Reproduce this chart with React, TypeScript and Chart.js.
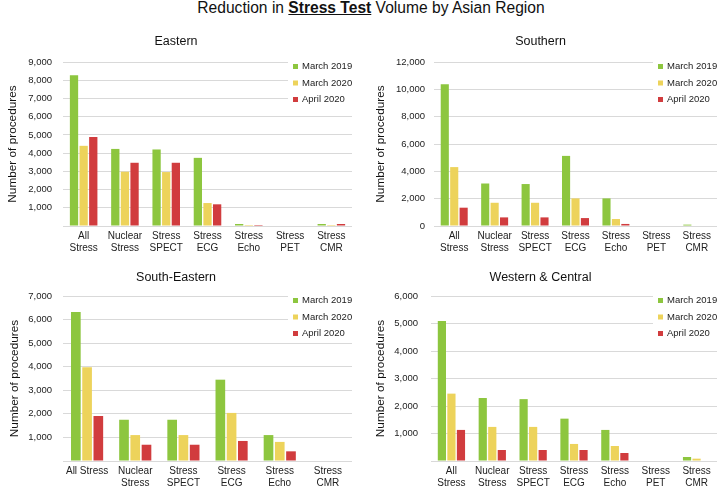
import React, { useEffect, useRef } from 'react';
import { Chart, registerables } from 'chart.js';

Chart.register(...registerables);

const FONT = "'Liberation Sans', Arial, sans-serif";

const SERIES_LABELS = ['March 2019', 'March 2020', 'April 2020'];
const SERIES_COLORS = ['#8DC63F', '#EDD35B', '#D13C3E'];

const CATEGORIES_7: (string | string[])[] = [
  ['All', 'Stress'], ['Nuclear', 'Stress'], ['Stress', 'SPECT'], ['Stress', 'ECG'],
  ['Stress', 'Echo'], ['Stress', 'PET'], ['Stress', 'CMR'],
];
const CATEGORIES_SE: (string | string[])[] = [
  'All Stress', ['Nuclear', 'Stress'], ['Stress', 'SPECT'], ['Stress', 'ECG'],
  ['Stress', 'Echo'], ['Stress', 'CMR'],
];

// Eastern
const EASTERN_MAR2019 = [8270, 4230, 4200, 3740, 110, 0, 110];
const EASTERN_MAR2020 = [4400, 2980, 2960, 1260, 55, 0, 55];
const EASTERN_APR2020 = [4890, 3470, 3470, 1190, 55, 0, 110];

// Southern
const SOUTHERN_MAR2019 = [10370, 3110, 3070, 5130, 2020, 0, 100];
const SOUTHERN_MAR2020 = [4310, 1700, 1700, 2020, 510, 0, 0];
const SOUTHERN_APR2020 = [1340, 630, 630, 580, 150, 0, 0];

// South-Eastern
const SE_MAR2019 = [6320, 1750, 1750, 3450, 1100, 0];
const SE_MAR2020 = [3975, 1100, 1100, 2040, 810, 0];
const SE_APR2020 = [1910, 690, 690, 850, 410, 0];

// Western & Central
const WC_MAR2019 = [5090, 2290, 2250, 1540, 1130, 0, 145];
const WC_MAR2020 = [2450, 1240, 1240, 620, 545, 0, 85];
const WC_APR2020 = [1130, 400, 400, 400, 290, 0, 0];

type Panel = {
  title: string;
  labels: (string | string[])[];
  series: number[][];
  max: number;
  step: number;
  showZero: boolean;
  left: number; top: number; width: number; height: number;
  yWidth: number; yTickPad: number; yTitlePad: number;
  xHeight: number; rightPad: number;
  titlePadTop: number; titlePadBottom: number;
};

const PANELS: Panel[] = [
  {
    title: 'Eastern', labels: CATEGORIES_7,
    series: [EASTERN_MAR2019, EASTERN_MAR2020, EASTERN_APR2020],
    max: 9000, step: 1000, showZero: false,
    left: 0, top: 30, width: 364, height: 228,
    yWidth: 63, yTickPad: 11, yTitlePad: 6, xHeight: 32, rightPad: 12,
    titlePadTop: 4.5, titlePadBottom: 12.5,
  },
  {
    title: 'Southern', labels: CATEGORIES_7,
    series: [SOUTHERN_MAR2019, SOUTHERN_MAR2020, SOUTHERN_APR2020],
    max: 12000, step: 2000, showZero: true,
    left: 364, top: 30, width: 364, height: 228,
    yWidth: 70, yTickPad: 9, yTitlePad: 10, xHeight: 32, rightPad: 11,
    titlePadTop: 4.5, titlePadBottom: 12.5,
  },
  {
    title: 'South-Eastern', labels: CATEGORIES_SE,
    series: [SE_MAR2019, SE_MAR2020, SE_APR2020],
    max: 7000, step: 1000, showZero: false,
    left: 0, top: 258, width: 364, height: 230,
    yWidth: 63, yTickPad: 11, yTitlePad: 8, xHeight: 27, rightPad: 12,
    titlePadTop: 12.5, titlePadBottom: 10.5,
  },
  {
    title: 'Western & Central', labels: CATEGORIES_7,
    series: [WC_MAR2019, WC_MAR2020, WC_APR2020],
    max: 6000, step: 1000, showZero: false,
    left: 364, top: 258, width: 364, height: 230,
    yWidth: 67, yTickPad: 13, yTitlePad: 10, xHeight: 27, rightPad: 11,
    titlePadTop: 12.5, titlePadBottom: 10.5,
  },
];

const insideLegend = {
  id: 'insideLegend',
  afterDatasetsDraw(chart: any) {
    const { ctx, chartArea } = chart;
    const textX = chartArea.right - 50;
    ctx.save();
    ctx.fillStyle = '#ffffff';
    ctx.fillRect(textX - 14, chartArea.top - 6, chartArea.right - textX + 16, 52);
    ctx.font = `9.5px ${FONT}`;
    ctx.textBaseline = 'middle';
    ctx.textAlign = 'left';
    chart.data.datasets.forEach((ds: any, i: number) => {
      const y = chartArea.top + 4 + i * 16.5;
      ctx.fillStyle = ds.backgroundColor;
      ctx.fillRect(textX - 9, y - 2, 5, 5);
      ctx.fillStyle = '#222222';
      ctx.fillText(ds.label, textX, y + 0.5);
    });
    ctx.restore();
  },
};

function PanelChart({ p }: { p: Panel }) {
  const ref = useRef<HTMLCanvasElement>(null);
  useEffect(() => {
    if (!ref.current) return;
    const chart = new Chart(ref.current, {
      type: 'bar',
      data: {
        labels: p.labels as any,
        datasets: p.series.map((d, i) => ({
          label: SERIES_LABELS[i],
          data: d,
          backgroundColor: SERIES_COLORS[i],
          borderWidth: 0,
          categoryPercentage: 0.7,
          barPercentage: 0.86,
        })),
      },
      options: {
        animation: false,
        responsive: false,
        devicePixelRatio: 1,
        layout: { padding: { left: 0, right: p.rightPad, top: 0, bottom: 0 } },
        plugins: {
          legend: { display: false },
          tooltip: { enabled: false },
          title: {
            display: true,
            text: p.title,
            color: '#111111',
            font: { family: FONT, size: 12.5, weight: 'normal' as any },
            padding: { top: p.titlePadTop, bottom: p.titlePadBottom },
          },
        },
        scales: {
          x: {
            grid: { display: false, drawTicks: false },
            border: { display: false },
            ticks: {
              autoSkip: false,
              maxRotation: 0,
              minRotation: 0,
              padding: 4,
              color: '#222222',
              font: { family: FONT, size: 10, lineHeight: 1.2 },
            },
            afterFit: (s: any) => { s.height = p.xHeight; },
          },
          y: {
            min: 0,
            max: p.max,
            grid: { color: '#D9D9D9', lineWidth: 1, drawTicks: false },
            border: { display: false },
            ticks: {
              stepSize: p.step,
              padding: p.yTickPad,
              color: '#222222',
              font: { family: FONT, size: 9.5 },
              callback: (v: any) => (Number(v) === 0 && !p.showZero ? '' : Number(v).toLocaleString('en-US')),
            },
            title: {
              display: true,
              text: 'Number of procedures',
              color: '#111111',
              font: { family: FONT, size: 11.8 },
              padding: { top: p.yTitlePad, bottom: 0 },
            },
            afterFit: (s: any) => { s.width = p.yWidth; },
          },
        },
      },
      plugins: [insideLegend],
    });
    return () => chart.destroy();
  }, [p]);
  return (
    <canvas
      ref={ref}
      width={p.width}
      height={p.height}
      style={{ position: 'absolute', left: p.left, top: p.top, width: p.width, height: p.height }}
    />
  );
}

export default function App() {
  return (
    <div style={{ position: 'absolute', left: 0, top: 0, width: 728, height: 488, background: '#ffffff', overflow: 'hidden' }}>
      <div
        style={{
          position: 'absolute', left: 7, top: -2, width: 728, lineHeight: '19px',
          textAlign: 'center', fontFamily: FONT, fontSize: 15.6, color: '#111111',
        }}
      >
        Reduction in <b><u>Stress Test</u></b> Volume by Asian Region
      </div>
      {PANELS.map((p) => (
        <PanelChart key={p.title} p={p} />
      ))}
    </div>
  );
}
